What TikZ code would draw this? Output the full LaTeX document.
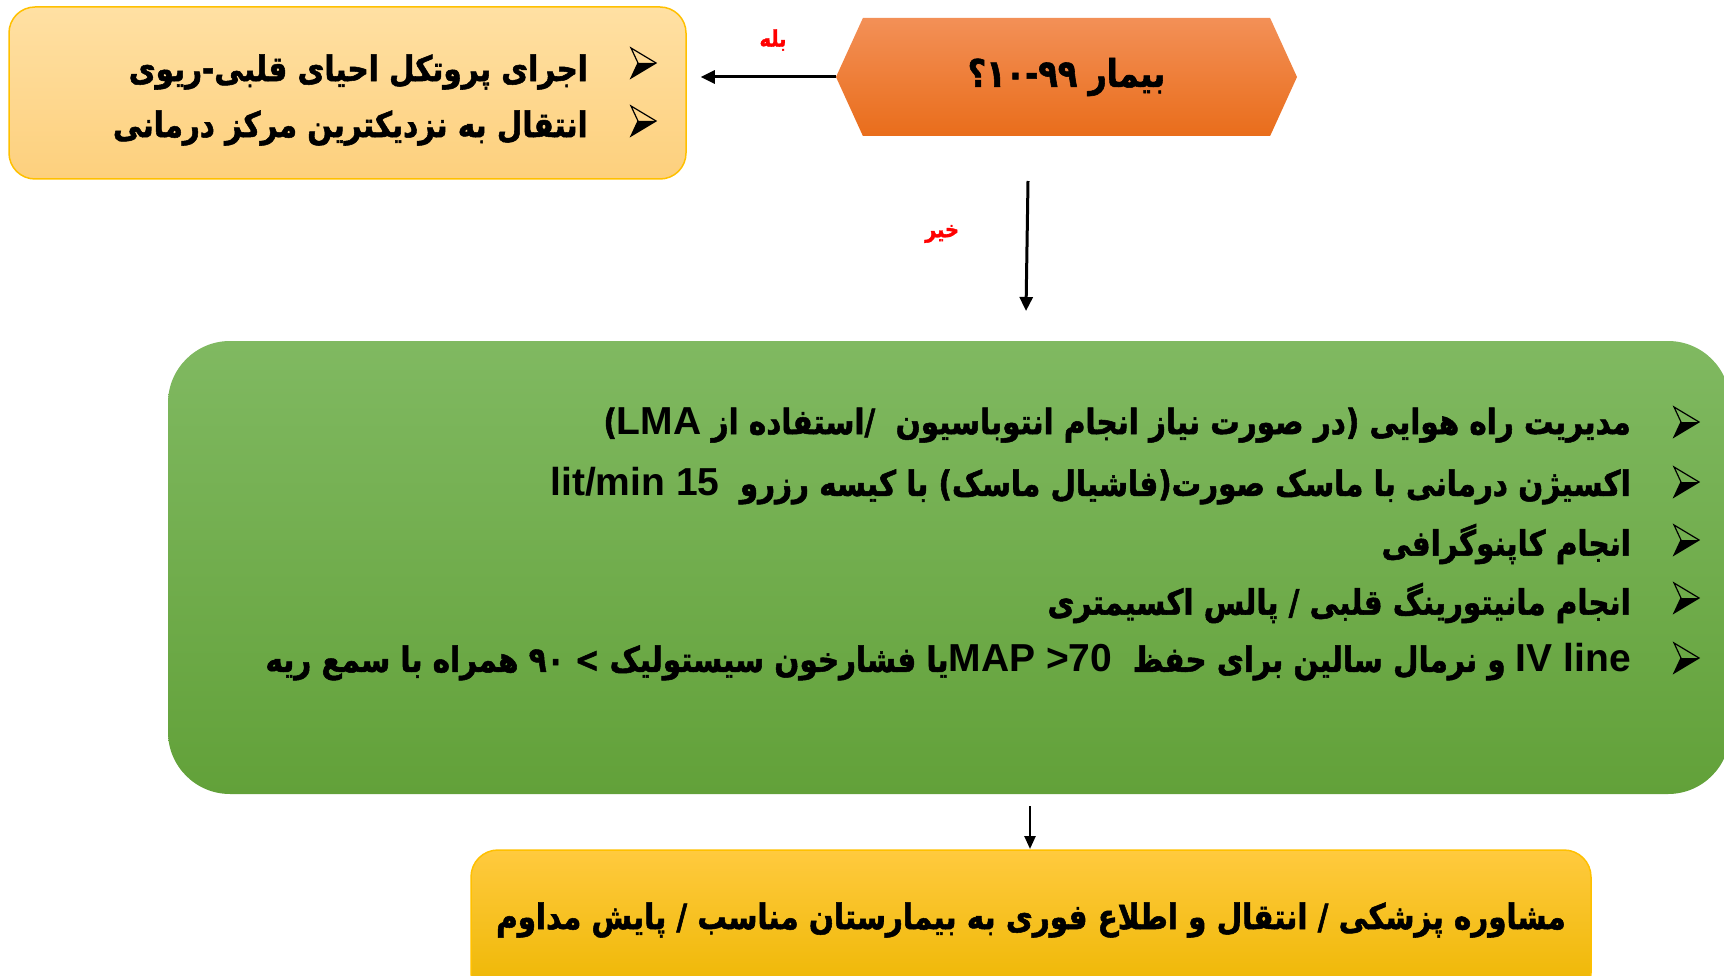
\documentclass[tikz,border=0pt]{standalone}
\usepackage{fontspec}
\usetikzlibrary{arrows.meta,shapes.symbols,calc}
\TeXXeTstate=1
\newfontfamily\arfont[Script=Arabic,FakeStretch=0.84,BoldFeatures={FakeBold=1.5}]{DejaVu Sans}
\newfontfamily\latfont{Liberation Sans}
\newcommand\LT[1]{\beginL{\latfont\bfseries\fontsize{39}{44}\selectfont #1}\endL}
\definecolor{yesT}{HTML}{FFE0A3}
\definecolor{yesB}{HTML}{FDD07D}
\definecolor{goldline}{HTML}{FFC000}
\definecolor{hexT}{HTML}{F39057}
\definecolor{hexB}{HTML}{E96D1B}
\definecolor{grT}{HTML}{80B961}
\definecolor{grB}{HTML}{62A139}
\definecolor{boT}{HTML}{FFCA3E}
\definecolor{boB}{HTML}{EDB600}
\definecolor{lblred}{HTML}{FF0000}
\tikzset{
  arline/.style={font=\arfont\bfseries\fontsize{35}{40}\selectfont, anchor=east, inner sep=0pt},
  arr/.style={line width=3pt, -{Triangle[length=14pt,width=13pt]}},
  arrthin/.style={line width=2.5pt, -{Triangle[length=13pt,width=11pt]}},
  lbl/.style={font=\arfont\bfseries\fontsize{23}{26}\selectfont, text=lblred, inner sep=0pt},
  bul/.pic={
    \fill[black] (13,0) -- (-5,0) -- (-12,15) -- cycle;
    \draw[black, line width=1.2pt, line join=miter] (13,0) -- (-12,-15) -- (-5,0) -- (-12,15) -- cycle;
  }
}
\begin{document}
\begin{tikzpicture}[x=1pt,y=-1pt]
\useasboundingbox (0,0) rectangle (1724,976);

% boxes
\node[draw=goldline, line width=1.5pt, rounded corners=26pt, top color=yesT, bottom color=yesB,
      minimum width=677pt, minimum height=172pt, inner sep=0pt] (yes) at (347.5,93) {};
\node[signal, signal to=west and east, signal pointer angle=131,
      top color=hexT, bottom color=hexB, minimum width=461pt, minimum height=118pt, inner sep=0pt,
      font=\arfont\bfseries\fontsize{38}{44}\selectfont] (q) at (1066.5,77)
      {\beginR بیمار ۱۰-۹۹\kern0pt ؟\endR};
\node[rounded corners=62pt, top color=grT, bottom color=grB,
      minimum width=1562pt, minimum height=453pt, inner sep=0pt] (care) at (949,567.5) {};
\node[draw=goldline, line width=1.5pt, rounded corners=27pt, top color=boT, bottom color=boB,
      minimum width=1120pt, minimum height=150pt, inner sep=0pt] (final) at (1031,925) {};

% left box content
\node[arline] (y1) at (588,72) {\beginR اجرای پروتکل احیای قلبی\kern0pt-\kern0pt ریوی\endR};
\node[arline] (y2) at (588,128) {\beginR انتقال به نزدیکترین مرکز درمانی\endR};
\pic at (643,63) {bul};
\pic at (643,121) {bul};

% green box content
\node[arline] (g1) at (1631,425) {\beginR مدیریت راه هوایی (\kern0pt در صورت نیاز انجام انتوباسیون\ \ /\kern0pt استفاده از \LT{LMA}\kern0pt)\endR};
\node[arline] (g2) at (1631,486) {\beginR اکسیژن درمانی با ماسک صورت\kern0pt(\kern0pt فاشیال ماسک\kern0pt) با کیسه رزرو\ \ \LT{lit/min 15}\endR};
\node[arline] (g3) at (1631,544) {\beginR انجام کاپنوگرافی\endR};
\node[arline] (g4) at (1631,603) {\beginR انجام مانیتورینگ قلبی / پالس اکسیمتری\endR};
\node[arline] (g5) at (1631,662) {\beginR\LT{IV line} و نرمال سالین برای حفظ\ \ \LT{MAP >70}\kern0pt یا فشارخون سیستولیک > ۹۰ همراه با سمع ریه\endR};
\foreach \yy in {422,482,540,598,658} { \pic at (1686,\yy) {bul}; }

% bottom box content
\node[arline, anchor=center] (f1) at (1031,920) {\beginR مشاوره پزشکی / انتقال و اطلاع فوری به بیمارستان مناسب / پایش مداوم\endR};

% connectors
\coordinate (yesend) at ($(yes.east |- q.west)+(14,0)$);
\draw[arr] (q.west) -- (yesend);
\node[lbl] (yeslbl) at (773,40) {\beginR بله\endR};

\coordinate (nostart) at (1028,181);
\coordinate (noend) at (1026,311);
\draw[arr] (nostart) -- (noend);
\node[lbl] (nolbl) at (942,234) {\beginR خیر\endR};

\coordinate (cs) at (1030,806);
\coordinate (ce) at (1030,849);
\draw[arrthin] (cs) -- (ce);
\end{tikzpicture}
\end{document}
